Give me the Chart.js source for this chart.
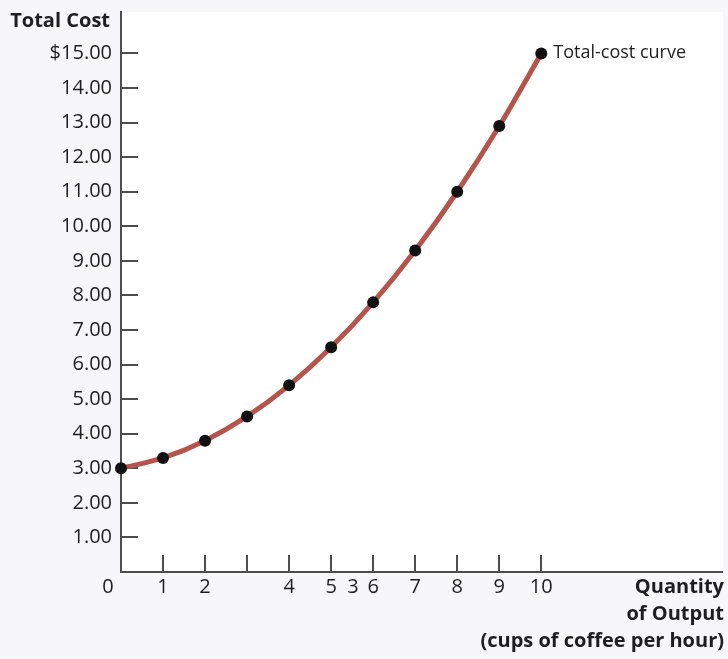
<!DOCTYPE html>
<html>
<head>
<meta charset="utf-8">
<title>Total-cost curve</title>
<script src="https://cdn.jsdelivr.net/npm/chart.js@4/dist/chart.umd.min.js"></script>
<style>
  html, body { margin: 0; padding: 0; background: #f7f7f9; }
  canvas { display: block; }
</style>
</head>
<body>
<canvas id="costChart" width="728" height="659"></canvas>
<script>
// data
const quantities = [0, 1, 2, 3, 4, 5, 6, 7, 8, 9, 10];
const totalCost = [3.00, 3.30, 3.80, 4.50, 5.40, 6.50, 7.80, 9.30, 11.00, 12.90, 15.00];

// tick labels (the "3" sits between 5 and 6 in the original, "0" left of the origin)
const xLabelValues = [-0.31, 1, 2, 4, 5, 5.52, 6, 7, 8, 9, 10];
const xLabels = ["0", "1", "2", "4", "5", "3", "6", "7", "8", "9", "10"];
const xMarkValues = [1, 2, 3, 4, 5, 6, 7, 8, 9, 10];

const yTickValues = [1, 2, 3, 4, 5, 6, 7, 8, 9, 10, 11, 12, 13, 14, 15];
const yTickLabels = ["1.00", "2.00", "3.00", "4.00", "5.00", "6.00", "7.00", "8.00",
  "9.00", "10.00", "11.00", "12.00", "13.00", "14.00", "$15.00"];

const yAxisTitle = "Total Cost";
const xAxisTitle = ["Quantity", "of Output", "(cups of coffee per hour)"];
const curveLabel = "Total-cost curve";

const INK = "#1e1e1e";
const AXIS = "#4d4d4d";

Chart.defaults.font.family = "'Open Sans', 'Noto Sans', sans-serif";
Chart.defaults.color = INK;

// grey page, white plot panel, inward tick marks and the loose texts
const decor = {
  id: "decor",
  beforeDraw(chart) {
    const { ctx, chartArea: a } = chart;
    ctx.save();
    ctx.fillStyle = "#f7f7f9";
    ctx.fillRect(0, 0, chart.width, chart.height);
    ctx.fillStyle = "#ffffff";
    ctx.fillRect(a.left, a.top, a.right - a.left + 1, a.bottom - a.top);
    ctx.restore();
  },
  beforeDatasetsDraw(chart) {
    const { ctx, scales: { x, y } } = chart;
    const len = 17;
    ctx.save();
    ctx.strokeStyle = AXIS;
    ctx.lineWidth = 2;
    ctx.beginPath();
    xMarkValues.forEach(v => {
      const px = Math.round(x.getPixelForValue(v));
      ctx.moveTo(px, y.bottom);
      ctx.lineTo(px, y.bottom - len);
    });
    yTickValues.forEach(v => {
      const py = Math.round(y.getPixelForValue(v));
      ctx.moveTo(x.left, py);
      ctx.lineTo(x.left + len, py);
    });
    ctx.stroke();
    ctx.restore();
  },
  afterDraw(chart) {
    const { ctx, scales: { x, y } } = chart;
    ctx.save();
    ctx.fillStyle = INK;

    // y axis title, top left
    ctx.font = "bold 20px 'Open Sans'";
    ctx.textAlign = "right";
    ctx.textBaseline = "alphabetic";
    ctx.fillText(yAxisTitle, 110, 27);

    // x axis title, right aligned under the axis
    xAxisTitle.forEach((line, i) => {
      ctx.fillText(line, 724, 593 + i * 27);
    });

    // label next to the last point
    const last = quantities.length - 1;
    ctx.font = "18px 'Open Sans'";
    ctx.textAlign = "left";
    ctx.textBaseline = "middle";
    ctx.fillText(curveLabel, x.getPixelForValue(quantities[last]) + 12,
      y.getPixelForValue(totalCost[last]) - 1);
    ctx.restore();
  }
};

const ctx = document.getElementById("costChart").getContext("2d");

new Chart(ctx, {
  type: "line",
  data: {
    datasets: [{
      label: curveLabel,
      data: quantities.map((q, i) => ({ x: q, y: totalCost[i] })),
      borderColor: "#b5544b",
      borderWidth: 5,
      cubicInterpolationMode: "monotone",
      pointRadius: 6,
      pointBackgroundColor: "#111111",
      pointBorderColor: "#111111",
      pointBorderWidth: 0,
      clip: false,
    }],
  },
  options: {
    responsive: false,
    animation: false,
    layout: { padding: { top: 12, right: 6, left: 0, bottom: 0 } },
    plugins: {
      legend: { display: false },
      tooltip: { enabled: false },
    },
    scales: {
      x: {
        type: "linear",
        min: 0,
        max: 14.3,
        afterFit: s => { s.height = 87; s.paddingLeft = 0; s.paddingRight = 0; },
        afterBuildTicks: s => { s.ticks = xLabelValues.map(v => ({ value: v })); },
        grid: { display: false, drawTicks: false },
        border: { display: true, color: AXIS, width: 2 },
        ticks: {
          autoSkip: false,
          maxRotation: 0,
          padding: 3,
          font: { size: 20 },
          color: INK,
          callback: (v, i) => xLabels[i],
        },
      },
      y: {
        min: 0,
        max: 16.2,
        afterFit: s => { s.width = 121; s.paddingTop = 0; s.paddingBottom = 0; },
        afterBuildTicks: s => { s.ticks = yTickValues.map(v => ({ value: v })); },
        grid: { display: false, drawTicks: false },
        border: { display: true, color: AXIS, width: 2 },
        ticks: {
          autoSkip: false,
          padding: 9,
          font: { size: 20 },
          color: INK,
          callback: (v, i) => yTickLabels[i],
        },
      },
    },
  },
  plugins: [decor],
});
</script>
</body>
</html>
